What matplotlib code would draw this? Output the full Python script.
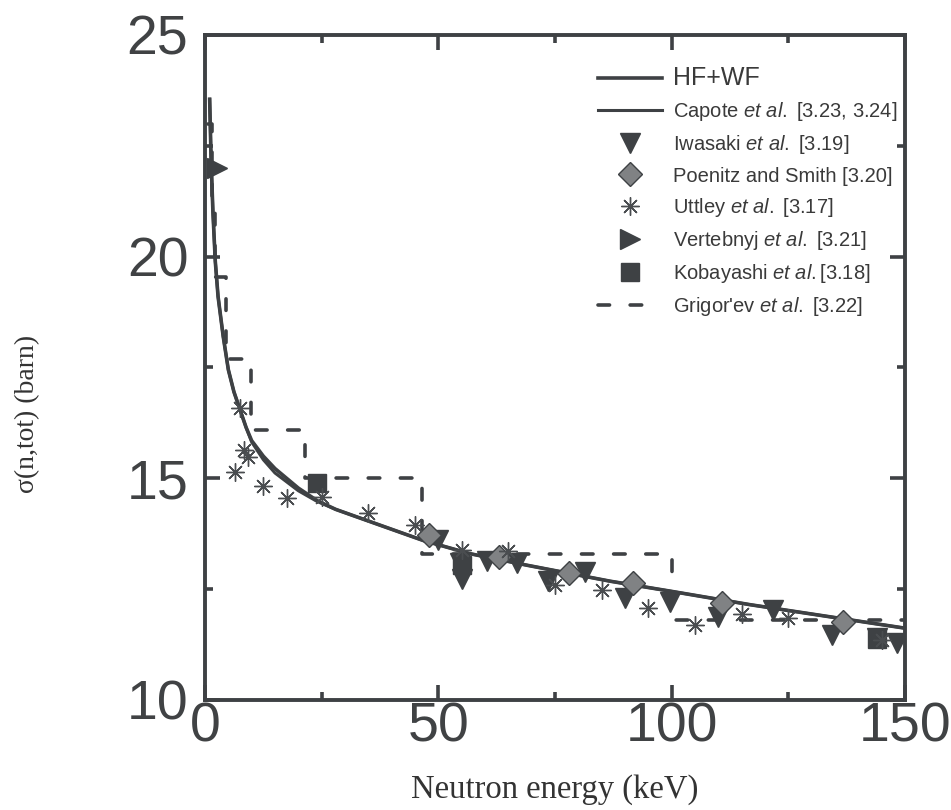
import matplotlib
matplotlib.use("Agg")
import matplotlib.pyplot as plt
from matplotlib.ticker import MultipleLocator

plt.rcParams['font.family'] = ['Liberation Sans', 'DejaVu Sans']
plt.rcParams['mathtext.fontset'] = 'custom'
plt.rcParams['mathtext.rm'] = 'Liberation Sans'
plt.rcParams['mathtext.it'] = 'Liberation Sans:italic'

# curvas teoricas (keV, barn)
hfwf_x = [1.0, 1.3, 1.7, 2.2, 2.8, 3.9, 5.0, 6.2, 7.5, 8.8, 10, 12.5, 15, 20, 24, 28, 36, 46.7, 56.8, 69, 86.8, 100, 116.8, 150]
hfwf_y = [23.55, 22.2, 21.0, 19.9, 19.1, 18.2, 17.45, 16.95, 16.55, 16.15, 15.85, 15.5, 15.22, 14.78, 14.5, 14.3, 14.0, 13.6, 13.3, 13.04, 12.68, 12.45, 12.15, 11.62]
capote_x = [1.0, 1.3, 1.7, 2.2, 2.8, 3.9, 5.0, 6.2, 7.5, 8.8, 10, 12.5, 15, 20, 24, 28, 36, 46.7, 56.8, 69, 86.8, 100, 116.8, 150]
capote_y = [23.55, 22.2, 21.0, 19.9, 19.1, 18.2, 17.45, 16.95, 16.55, 16.15, 15.82, 15.42, 15.12, 14.72, 14.48, 14.3, 14.0, 13.6, 13.3, 13.04, 12.68, 12.45, 12.15, 11.62]

# dados experimentais
iwasaki_x = [50, 54.6, 55, 60.4, 66.8, 73.6, 81.4, 90, 99.6, 110, 121.8, 134.3, 143.9, 148.2]
iwasaki_y = [13.6, 13.1, 12.72, 13.14, 13.08, 12.68, 12.88, 12.3, 12.22, 11.88, 12.03, 11.47, 11.4, 11.29]
poenitz_x = [47.9, 62.9, 77.9, 91.8, 110.7, 136.8]
poenitz_y = [13.72, 13.23, 12.86, 12.63, 12.18, 11.77]
uttley_x = [6.4, 7.5, 8.4, 9.3, 12.5, 17.5, 25, 35, 45, 55, 65, 75, 85, 95, 105, 115, 125, 145]
uttley_y = [15.15, 16.58, 15.64, 15.47, 14.83, 14.56, 14.58, 14.22, 13.95, 13.38, 13.35, 12.6, 12.48, 12.07, 11.69, 11.93, 11.85, 11.35]
vertebnyj_x = [2.6]
vertebnyj_y = [22.0]
kobayashi_x = [23.9, 55, 143.9]
kobayashi_y = [14.9, 13.05, 11.38]

# Grigor'ev: bordas dos intervalos e valores
grig_e = [0.6, 1.4, 2.1, 4.5, 9.9, 21.4, 46.5, 100.0, 150.0]
grig_s = [23.0, 21.0, 19.55, 17.7, 16.1, 15.0, 13.3, 11.8]

dark = '#3e4144'
fig = plt.figure(figsize=(9.51, 8.10), dpi=100)
ax = fig.add_axes([205 / 951, 1 - 700 / 810, 700 / 951, 665 / 810])

ax.plot(hfwf_x, hfwf_y, color=dark, lw=2.6, label='HF+WF', zorder=3)
ax.plot(capote_x, capote_y, color=dark, lw=2.2, label=r'Capote $et\ al.$ [3.23, 3.24]', zorder=3)
ax.plot(iwasaki_x, iwasaki_y, 'v', color=dark, ms=14, mec=dark, label=r'Iwasaki $et\ al.$ [3.19]', zorder=4)
ax.plot(poenitz_x, poenitz_y, 'D', color='#808284', ms=12, mec=dark, mew=1,
        label='Poenitz and Smith [3.20]', zorder=5)
ax.plot(uttley_x, uttley_y, ls='none', marker=(8, 2, 0), color='#4a4d50', ms=13, mew=1,
        label=r'Uttley $et\ al.$ [3.17]', zorder=5)
ax.plot(vertebnyj_x, vertebnyj_y, '>', color=dark, ms=15, label=r'Vertebnyj $et\ al.$ [3.21]', zorder=5)
ax.plot(kobayashi_x, kobayashi_y, 's', color=dark, ms=13, label=r'Kobayashi $et\ al.$[3.18]', zorder=4)
gl, = ax.step(grig_e, grig_s + [grig_s[-1]], where='post', color=dark, lw=2.6,
              label=r"Grigor'ev $et\ al.$ [3.22]", zorder=2)
gl.set_dashes([3.2, 5.7])
gl.set_dash_capstyle('round')

ax.set_xlim(0, 150)
ax.set_ylim(10, 25)
ax.xaxis.set_major_locator(MultipleLocator(50))
ax.xaxis.set_minor_locator(MultipleLocator(25))
ax.yaxis.set_major_locator(MultipleLocator(5))
ax.yaxis.set_minor_locator(MultipleLocator(2.5))
ax.tick_params(which='both', direction='in', top=True, right=True, color=dark, width=2.6)
ax.tick_params(which='major', length=11, labelsize=40, labelcolor='#404244')
ax.tick_params(which='minor', length=5.5)
ax.tick_params(axis='x', pad=1)
ax.tick_params(axis='y', pad=12)
for s in ax.spines.values():
    s.set_linewidth(2.8)
    s.set_color(dark)

fig.text(555 / 951, 1 - 790 / 810, 'Neutron energy (keV)', family='Liberation Serif',
         fontsize=23.5, color='#333333', ha='center', va='center')
fig.text(28 / 951, 1 - 414 / 810, r'σ(n,tot) (barn)', family='Liberation Serif',
         fontsize=20, color='#333333', ha='center', va='center', rotation=90)

leg = ax.legend(loc='upper right', bbox_to_anchor=(1.0, 0.965), frameon=False, fontsize=14.5,
                handlelength=3.2, handletextpad=0.5, labelspacing=0.5, borderaxespad=0.0)
for t in leg.get_texts():
    t.set_color('#3a3a3a')
leg.get_texts()[0].set_fontsize(18)

fig.savefig('out.png', dpi=100)
